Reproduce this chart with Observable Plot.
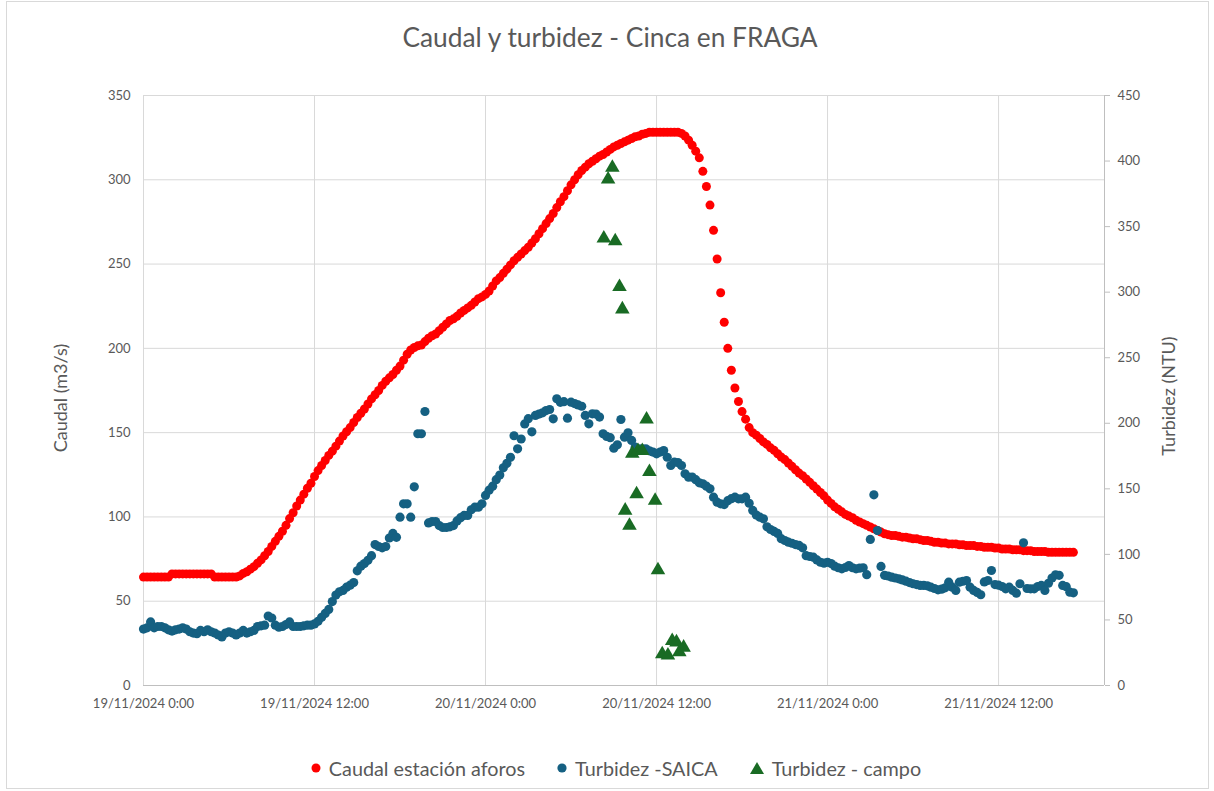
<!DOCTYPE html>
<html>
<head>
<meta charset="utf-8">
<script src="https://cdn.jsdelivr.net/npm/d3@7"></script>
<script src="https://cdn.jsdelivr.net/npm/@observablehq/plot@0.6"></script>
<style>
  body { margin: 0; background: #fff; font-family: Lato, "Liberation Sans", sans-serif; color: #595959; }
  #wrap { position: relative; width: 1214px; height: 791px; overflow: hidden; }
  #frame { position: absolute; left: 6px; top: 1px; width: 1203px; height: 788px; border: 1px solid #d9d9d9; box-sizing: border-box; }
  #chart { position: absolute; left: 0; top: 0; }
  #title { position: absolute; left: 3px; width: 1214px; top: 21px; text-align: center; font-size: 26.3px; color: #595959; white-space: nowrap; }
  .ytitle { position: absolute; font-size: 18px; white-space: nowrap; transform: translate(-50%, -50%) rotate(-90deg); color: #595959; }
  #legend { position: absolute; top: 756px; left: 9px; width: 1214px; display: flex; justify-content: center; gap: 32px; font-size: 19.8px; color: #595959; }
  #legend .it { display: flex; align-items: center; gap: 8px; white-space: nowrap; }
</style>
</head>
<body>
<div id="wrap">
  <div id="frame"></div>
  <div id="chart"></div>
  <div id="title"></div>
  <div class="ytitle" id="yl" style="left:60px; top:398px;"></div>
  <div class="ytitle" id="yr" style="left:1168px; top:396px;"></div>
  <div id="legend"></div>
</div>
<script>
// ---------- DATA ----------
const chartTitle = "Caudal y turbidez - Cinca en FRAGA";
const leftAxisTitle = "Caudal (m3/s)";
const rightAxisTitle = "Turbidez (NTU)";
const seriesNames = ["Caudal estación aforos", "Turbidez -SAICA", "Turbidez - campo"];

const startTime = "2024-11-19T00:00:00Z";
const stepMinutes = 15;
const axisEndTime = "2024-11-21T19:26:00Z";

// Caudal (m3/s), one value every 15 minutes from startTime
const caudal = [
  64.3,64.3,64.3,64.3,64.3,64.3,64.3,64.3,
  66.2,66.2,66.2,66.2,66.2,66.2,66.2,66.2,66.2,66.2,66.2,66.2,
  64.3,64.3,64.3,64.3,64.3,64.3,64.3,65,
  66.5,67.5,69,70.5,72.5,74.5,77,79.5,82.5,85.5,88.5,91.5,95,99,102.5,106.5,110,113.5,117,120,
  124,127.5,130.5,133.5,136.5,139,142,145,148,150.5,153,156,159,161.5,164,167,170,172.5,175,178,
  180.5,182.5,184.5,187,189.5,193,196.5,199,200.5,201.5,202,204,206,207.5,208.5,210.5,212.5,214.5,
  216.5,217.5,219,221,222.5,224,225.5,227.5,229.5,230.5,232,234,237,240,242,244.5,247,249.5,252,
  254,256,258,260,262.5,265,268,271,274,277,280,283.5,287,290,293.5,297,300,303,305.5,307.5,309.5,
  311,312.5,314,315,316.5,318,319.5,320.5,321.5,322.5,323.5,324.5,325.5,326,327,327.5,328.2,
  328.2,328.2,328.2,328.2,328.2,328.2,328.2,328.2,
  327.5,326,323.5,320.5,317,313,305,296,285,270,253,233,215.5,200,187,176.5,168.5,162.5,158,153,150,
  148.5,146.5,144.5,143,141,139.5,137.5,135.5,134,132,130,128,126,124.5,122.5,120.5,118.5,116.5,
  114.5,112.5,110,108,106,104.5,103,101.5,100.5,99.5,98,97,96,95,94,93,92,91,
  90,89.5,89,89,88.5,88,88,87.5,87,87,86.5,86,86,85.5,85,85,84.5,84.5,84,84,84,83.5,83.5,83,83,83,
  82.5,82.5,82,82,82,81.5,81.5,81,81,81,80.5,80.5,80.5,80,80,80,79.5,79.5,79.5,79.5,
  79,79,79,79,79,79,79,79
];

// Turbidez SAICA (NTU), one value every 15 minutes from startTime
const turbidezSaica = [
  43,44,48.5,44,45,45,44,42.5,41.5,42.5,43,44,43,41,40,39.5,42,41,42.5,41,
  40,38.5,37,40,41,40,38.5,40,42,40,41,42,45,45.5,46,53,51.5,46,44.5,45,
  46.5,48.5,45,45,45,45.5,46,46,47,49,52,55,58,64,69,71.5,72.5,75,76.5,78.5,
  87.5,91,93,95.5,99,107.5,106,105,106,112.5,116,113,128.4,138.6,138.6,128.4,151.5,192,192,209,
  124,125,125,122,120.5,120.5,121,122,125.5,128,129.7,129.7,134,136,136,138.6,145,149,152,157,
  160.5,166,169.5,174,190.5,180.5,188,199.5,203.5,193.5,206,207,208,209.7,210.5,203.4,218.7,216,216.5,203.9,
  216.1,215,214,213,206,199.6,207.2,207,204.7,192,190,189,181,183.6,202.9,189.4,192.7,186.9,181.8,180.5,
  180.5,180.5,179,178,176.7,178,179.2,174.1,167.8,170.3,170,167.8,161.5,158.9,159,157,154.6,153.8,152,150,
  143.6,139.8,138.6,138,141,142.5,143.6,142.4,142.4,143.6,139,133.5,130,128.4,127.1,121,119,117.5,116,112,
  110.6,109.3,108.5,107.5,106.8,105,99,98.4,97.9,95.8,94,93.3,94,93,91,89.8,89,90,91.5,89.8,
  89,89.5,89.8,84.5,111.4,145.4,118.2,90.8,84,83.5,82.6,82,81.4,80.5,79.6,78.5,77.6,77,76.3,76.3,
  76,75,74,73,73.5,74.5,78.8,75,72.5,78.8,79.5,80,75,72.5,71,69.2,79,80.1,87.7,77,
  76.5,75.5,73.7,75,72.5,70.4,77.6,108.8,74,73.7,73.7,75.5,76.3,72.5,78,82,84.4,84,76.3,75.4,
  71.2,70.7
];

// Turbidez campo (NTU), field samples
const campoTimes = [
  "2024-11-20T08:18:00Z","2024-11-20T08:36:00Z","2024-11-20T08:54:00Z","2024-11-20T09:06:00Z",
  "2024-11-20T09:24:00Z","2024-11-20T09:36:00Z","2024-11-20T09:48:00Z","2024-11-20T10:06:00Z",
  "2024-11-20T10:18:00Z","2024-11-20T10:36:00Z","2024-11-20T10:42:00Z","2024-11-20T11:00:00Z",
  "2024-11-20T11:18:00Z","2024-11-20T11:30:00Z","2024-11-20T11:54:00Z","2024-11-20T12:06:00Z",
  "2024-11-20T12:24:00Z","2024-11-20T12:48:00Z","2024-11-20T13:06:00Z","2024-11-20T13:24:00Z",
  "2024-11-20T13:36:00Z","2024-11-20T13:54:00Z"
];
const campoNTU = [341,386,395,339,304,287,133.5,122,177,146,179,179,203,163,141,88,24,23,34,33,25.5,29];

const xTickTimes = ["2024-11-19T00:00:00Z","2024-11-19T12:00:00Z","2024-11-20T00:00:00Z","2024-11-20T12:00:00Z","2024-11-21T00:00:00Z","2024-11-21T12:00:00Z"];
const xTickLabels = ["19/11/2024 0:00","19/11/2024 12:00","20/11/2024 0:00","20/11/2024 12:00","21/11/2024 0:00","21/11/2024 12:00"];
const leftTicks = [0,50,100,150,200,250,300,350];
const rightTicks = [0,50,100,150,200,250,300,350,400,450];
const leftMax = 350, rightMax = 450;

// ---------- BUILD ----------
const t0 = new Date(startTime).getTime();
const stepMs = stepMinutes * 60000;
const k = leftMax / rightMax; // right axis -> left axis units
const qData = caudal.map((v, i) => ({t: new Date(t0 + i * stepMs), v}));
const sData = turbidezSaica.map((v, i) => ({t: new Date(t0 + i * stepMs), v}));
const cData = campoTimes.map((s, i) => ({t: new Date(s), v: campoNTU[i]}));
const xTicks = xTickTimes.map(s => new Date(s));
const tickLabel = new Map(xTicks.map((d, i) => [+d, xTickLabels[i]]));

const font = 'Lato, "Liberation Sans", sans-serif';
const chart = Plot.plot({
  width: 1214, height: 791,
  marginTop: 95, marginBottom: 106, marginLeft: 143, marginRight: 110,
  style: {fontFamily: font, fontSize: "13px", color: "#595959", background: "transparent"},
  x: {type: "utc", domain: [new Date(t0), new Date(axisEndTime)]},
  y: {domain: [0, leftMax]},
  marks: [
    Plot.gridY(leftTicks, {stroke: "#d9d9d9", strokeOpacity: 1}),
    Plot.gridX(xTicks, {stroke: "#d9d9d9", strokeOpacity: 1}),
    Plot.ruleY([0], {stroke: "#bfbfbf"}),
    Plot.ruleX([new Date(axisEndTime)], {stroke: "#bfbfbf"}),
    Plot.axisY(leftTicks, {anchor: "left", tickSize: 0, tickPadding: 13, label: null, fill: "#595959"}),
    Plot.axisY(rightTicks.map(d => d * k), {anchor: "right", tickSize: 5, tickPadding: 8, label: null, stroke: "#bfbfbf", fill: "#595959", tickFormat: d => String(Math.round(d / k))}),
    Plot.axisX(xTicks, {anchor: "bottom", tickSize: 0, tickPadding: 13, label: null, fill: "#595959", tickFormat: d => tickLabel.get(+d)}),
    Plot.dot(qData, {x: "t", y: "v", r: 4.5, fill: "#ff0000"}),
    Plot.dot(sData, {x: "t", y: d => d.v * k, r: 4.6, fill: "#156082"}),
    Plot.dot(cData, {x: "t", y: d => d.v * k, r: 5.4, symbol: "triangle", fill: "#196b24"})
  ]
});
document.getElementById("chart").appendChild(chart);

document.getElementById("title").textContent = chartTitle;
document.getElementById("yl").textContent = leftAxisTitle;
document.getElementById("yr").textContent = rightAxisTitle;

const markers = [
  '<svg width="10" height="10"><circle cx="5" cy="5" r="4.5" fill="#ff0000"/></svg>',
  '<svg width="10" height="10"><circle cx="5" cy="5" r="4.6" fill="#156082"/></svg>',
  '<svg width="14" height="12"><path d="M7,0 L14,12 L0,12 Z" fill="#196b24"/></svg>'
];
document.getElementById("legend").innerHTML = seriesNames.map((n, i) =>
  `<span class="it">${markers[i]}<span>${n}</span></span>`).join("");
</script>
</body>
</html>
